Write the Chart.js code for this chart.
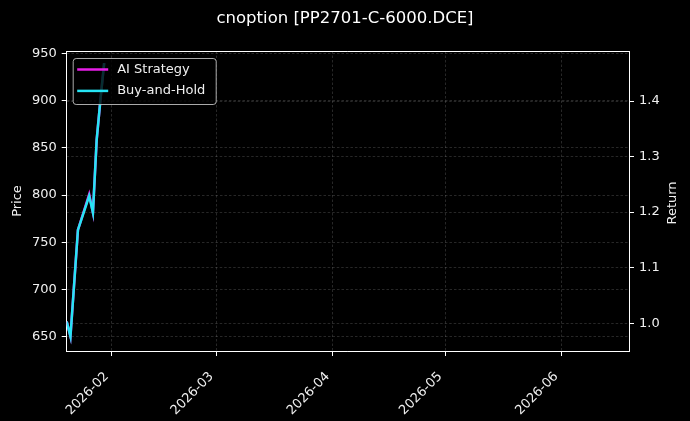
<!DOCTYPE html>
<html>
<head>
<meta charset="utf-8">
<script src="https://cdn.jsdelivr.net/npm/chart.js@4"></script>
<style>
  html, body { margin: 0; padding: 0; background: #000; }
  #wrap { width: 690px; height: 421px; }
</style>
</head>
<body>
<div id="wrap"><canvas id="chart" width="690" height="421"></canvas></div>
<script>
// values
const dates = ['2026-01-20', '2026-01-21', '2026-01-23', '2026-01-26', '2026-01-27', '2026-01-28', '2026-01-29', '2026-01-30'];
const aiStrategy = [1.003, 0.976, 1.168, 1.232, 1.199, 1.330, 1.402, 1.468];
const buyAndHold = [1.003, 0.976, 1.168, 1.229, 1.199, 1.330, 1.402, 1.468];
const monthTicks = ['2026-02', '2026-03', '2026-04', '2026-05', '2026-06'];
const priceTicks = [650, 700, 750, 800, 850, 900, 950];
const returnTicks = [1.0, 1.1, 1.2, 1.3, 1.4];

const FONT = "'DejaVu Sans', sans-serif";
const TEXT = '#f0f0f0';
const GRID = 'rgba(150, 150, 150, 0.38)';

const toMs = (s) => new Date(s.length === 7 ? s + '-01' : s).getTime();
const xMin = toMs('2026-01-20');
const xMax = toMs('2026-06-19') + 2 * 3600 * 1000;

function points(values) {
  return values.map((v, i) => ({ x: toMs(dates[i]), y: v }));
}

// legend box, top spine and the right axis title (reads bottom to top)
const frameAndLegend = {
  id: 'frameAndLegend',
  afterDatasetsDraw(chart) {
    const { ctx, chartArea } = chart;
    ctx.save();
    ctx.strokeStyle = '#ffffff';
    ctx.lineWidth = 1;
    ctx.beginPath();
    ctx.moveTo(chartArea.left, chartArea.top + 0.5);
    ctx.lineTo(chartArea.right, chartArea.top + 0.5);
    ctx.stroke();

    const bx = chartArea.left + 6.5;
    const by = chartArea.top + 7.5;
    const bw = 143;
    const bh = 46;
    ctx.beginPath();
    ctx.roundRect(bx, by, bw, bh, 3);
    ctx.fillStyle = 'rgba(0, 0, 0, 0.8)';
    ctx.fill();
    ctx.strokeStyle = 'rgba(200, 200, 200, 0.85)';
    ctx.stroke();

    ctx.font = '13px ' + FONT;
    ctx.textBaseline = 'middle';
    ctx.fillStyle = TEXT;
    chart.data.datasets.forEach((ds, i) => {
      const y = by + 11 + i * 21.4;
      ctx.strokeStyle = ds.borderColor;
      ctx.lineWidth = 2.5;
      ctx.beginPath();
      ctx.moveTo(bx + 4, y);
      ctx.lineTo(bx + 35, y);
      ctx.stroke();
      ctx.fillText(ds.label, bx + 44, y);
    });

    ctx.translate(673, (chartArea.top + chartArea.bottom) / 2 + 2);
    ctx.rotate(-Math.PI / 2);
    ctx.textAlign = 'center';
    ctx.fillText('Return', 0, 0);
    ctx.restore();
  }
};

new Chart(document.getElementById('chart'), {
  type: 'line',
  data: {
    datasets: [{
      label: 'AI Strategy',
      data: points(aiStrategy),
      borderColor: '#e81ee8',
      borderWidth: 2.5,
      pointRadius: 0,
      yAxisID: 'y1',
      order: 2
    }, {
      label: 'Buy-and-Hold',
      data: points(buyAndHold),
      borderColor: '#26e4f4',
      borderWidth: 2.5,
      pointRadius: 0,
      yAxisID: 'y1',
      order: 1
    }]
  },
  options: {
    responsive: false,
    animation: false,
    layout: { padding: 0 },
    plugins: {
      legend: { display: false },
      tooltip: { enabled: false },
      title: {
        display: true,
        text: 'cnoption [PP2701-C-6000.DCE]',
        color: '#ffffff',
        font: { family: FONT, size: 16.5, weight: 'normal', lineHeight: 1.2 },
        padding: { top: 9, bottom: 22.2 }
      }
    },
    scales: {
      x: {
        type: 'linear',
        min: xMin,
        max: xMax,
        afterBuildTicks: (s) => { s.ticks = monthTicks.map((m) => ({ value: toMs(m) })); },
        afterFit: (s) => { s.height = 70; },
        ticks: {
          color: TEXT,
          font: { family: FONT, size: 13 },
          minRotation: 45,
          maxRotation: 45,
          autoSkip: false,
          padding: 13,
          labelOffset: -5,
          callback: (v) => {
            const d = new Date(v);
            return d.getUTCFullYear() + '-' + String(d.getUTCMonth() + 1).padStart(2, '0');
          }
        },
        grid: { color: GRID, lineWidth: 0.7, tickColor: '#ffffff', tickLength: 5, tickWidth: 1, tickBorderDash: [] },
        border: { color: '#ffffff', width: 1, dash: [2.5, 2] }
      },
      y: {
        position: 'left',
        min: 634.9,
        max: 952.4,
        afterBuildTicks: (s) => { s.ticks = priceTicks.map((v) => ({ value: v })); },
        afterFit: (s) => { s.width = 66.7; },
        title: { display: true, text: 'Price', color: TEXT, font: { family: FONT, size: 13 }, padding: { top: 10, bottom: 0 } },
        ticks: { color: TEXT, font: { family: FONT, size: 13 }, padding: 5 },
        grid: { color: GRID, lineWidth: 0.7, tickColor: '#ffffff', tickLength: 5, tickWidth: 1, tickBorderDash: [] },
        border: { color: '#ffffff', width: 1, dash: [2.5, 2] }
      },
      y1: {
        position: 'right',
        min: 0.950,
        max: 1.490,
        afterBuildTicks: (s) => { s.ticks = returnTicks.map((v) => ({ value: v })); },
        afterFit: (s) => { s.width = 61; },
        ticks: { color: TEXT, font: { family: FONT, size: 13 }, padding: 5, callback: (v) => v.toFixed(1) },
        grid: { color: GRID, lineWidth: 0.7, tickColor: '#ffffff', tickLength: 5, tickWidth: 1, tickBorderDash: [] },
        border: { color: '#ffffff', width: 1, dash: [2.5, 2] }
      }
    }
  },
  plugins: [frameAndLegend]
});
</script>
</body>
</html>
